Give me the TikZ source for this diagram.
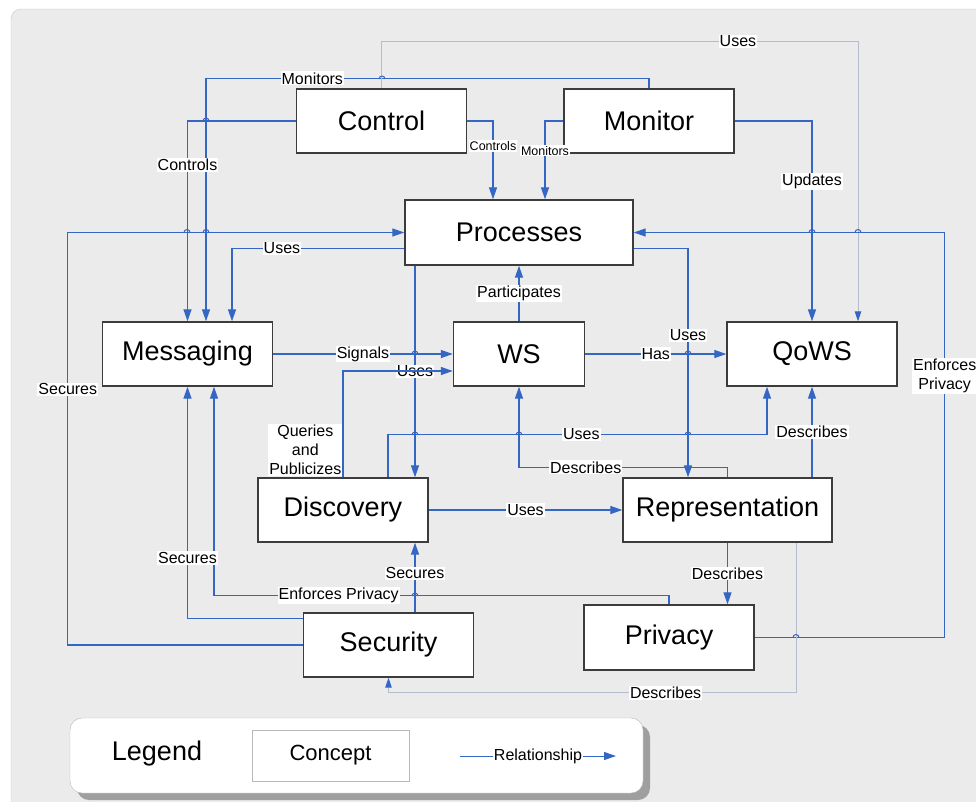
\documentclass[tikz,border=0pt]{standalone}
\usepackage{fontspec}
\setmainfont{Liberation Sans}
\usepackage{tikz}
\usetikzlibrary{arrows.meta,positioning,calc,shadows}

\definecolor{relBlue}{RGB}{52,102,196}
\definecolor{weakGray}{RGB}{180,188,205}
\definecolor{panelGray}{RGB}{235,235,235}
\definecolor{boxLine}{RGB}{60,60,60}

\tikzstyle{conceptBox} = [
  shape=rectangle,
  draw=boxLine,
  line width=1.4pt,
  fill=white,
  minimum width=170pt,
  minimum height=64pt,
  inner sep=0pt,
  font=\fontsize{27}{30}\selectfont,
  ]
\tikzstyle{relArrow} = [
  draw=relBlue,
  line width=1.3pt,
  -{Triangle[length=12pt,width=8pt]},
  ]
\tikzstyle{weakArrow} = [
  draw=weakGray,
  line width=1pt,
  -{Triangle[length=10pt,width=6.5pt,color=relBlue]},
  ]
\tikzstyle{relLabel} = [
  fill=white,
  inner sep=1pt,
  text=black,
  align=center,
  font=\fontsize{16}{19}\selectfont,
  ]
\tikzstyle{smallLabel} = [relLabel, font=\fontsize{12.5}{14}\selectfont]
\tikzstyle{legendBox} = [
  shape=rectangle,
  rounded corners=12pt,
  draw=gray!55,
  fill=white,
  minimum width=573pt,
  minimum height=75pt,
  drop shadow={shadow xshift=7pt,shadow yshift=-7pt,fill=gray!75,opacity=1},
  ]
\newcommand{\hop}[2]{\draw[relBlue,line width=1pt] (#1-3,#2) arc[start angle=180,end angle=360,radius=3];}

\begin{document}
\begin{tikzpicture}[x=1pt,y=-1pt]
  \clip (0,0) rectangle (976,801);
  \fill[panelGray,draw=gray!45,rounded corners=10pt] (11,9) rectangle (1010,840);

  \node[conceptBox] (control) at (381.5,121) {Control};
  \node[conceptBox] (monitor) at (649,121) {Monitor};
  \node[conceptBox,minimum width=228pt,minimum height=65pt] (processes) at (519,232.5) {Processes};
  \node[conceptBox] (messaging) at (187.5,354) {Messaging};
  \node[conceptBox,minimum width=131pt] (ws) at (519,354) {WS};
  \node[conceptBox] (qows) at (812,354) {QoWS};
  \node[conceptBox] (discovery) at (343,510) {Discovery};
  \node[conceptBox,minimum width=209pt] (representation) at (727.5,510) {Representation};
  \node[conceptBox] (security) at (388.5,645) {Security};
  \node[conceptBox,minimum height=65pt] (privacy) at (669,637.5) {Privacy};

  % control and monitor
  \draw[relArrow] (monitor.north) -- ++(0,-10) -| node[relLabel,pos=0.38] {Monitors} ([xshift=18.5pt]messaging.north);
  \draw[relArrow] (control.west) -| node[relLabel,pos=0.61] {Controls} (messaging.north);
  \draw[relArrow] (control.east) -| node[smallLabel,pos=0.66] {Controls} ([xshift=-26pt]processes.north);
  \draw[relArrow] (monitor.west) -| node[smallLabel,pos=0.69] {Monitors} ([xshift=26pt]processes.north);
  \draw[weakArrow] (control.north) -- ++(0,-47) -| node[relLabel,pos=0.374] {Uses} ([xshift=46pt]qows.north);
  \draw[relArrow] (monitor.east) -| node[relLabel,pos=0.65] {Updates} (qows.north);

  % processes
  \draw[relArrow] (security.west) -- ++(-235,0) |- node[relLabel,pos=0.31] {Secures} (processes.west);
  \draw[relArrow] ([yshift=-16pt]processes.west) -| node[relLabel,pos=0.355] {Uses} ([xshift=44.5pt]messaging.north);
  \draw[relArrow] ([xshift=-104pt]processes.south) -- node[relLabel] {Uses} ([xshift=-104pt]processes.south |- discovery.north);
  \draw[relArrow] ([yshift=-16pt]processes.east) -| node[relLabel,pos=0.69] {Uses} ([xshift=-39.5pt]representation.north);
  \draw[relArrow] (privacy.east) -- ++(190,0) |- node[relLabel,pos=0.323] {Enforces\\Privacy} (processes.east);

  % ws and qows
  \draw[relArrow] (messaging.east) -- node[relLabel] {Signals} (ws.west);
  \draw[relArrow] (ws.north) -- node[relLabel] {Participates} (processes.south);
  \draw[relArrow] (ws.east) -- node[relLabel] {Has} (qows.west);
  \draw[relArrow] (discovery.north) |- node[relLabel,left,pos=0.13] {Queries\\and\\Publicizes} ([yshift=-17pt]ws.west);
  \draw[relArrow] ([xshift=45pt]discovery.north) -- ++(0,-43) -| node[relLabel,pos=0.255] {Uses} ([xshift=-45pt]qows.south);
  \draw[relArrow] (representation.north) -- ++(0,-10) -| node[relLabel,pos=0.34] {Describes} (ws.south);
  \draw[relArrow] (qows.south |- representation.north) -- node[relLabel] {Describes} (qows.south);

  % lower part
  \draw[relArrow] (discovery.east) -- node[relLabel] {Uses} (representation.west);
  \draw[relArrow] (representation.south) -- node[relLabel] {Describes} (representation.south |- privacy.north);
  \draw[relArrow] (privacy.north) -- ++(0,-9) -| node[relLabel,pos=0.363] {Enforces Privacy} ([xshift=26.5pt]messaging.south);
  \draw[relArrow] ([yshift=-6pt]security.north west) -| node[relLabel,pos=0.63] {Secures} (messaging.south);
  \draw[relArrow] ([xshift=26.5pt]security.north) -- node[relLabel,pos=0.56] {Secures} ([xshift=26.5pt]security.north |- discovery.south);
  \draw[weakArrow] ([xshift=68.5pt]representation.south) -- ++(0,150) -| node[relLabel,pos=0.16] {Describes} (security.south);

  % line hops
  \foreach \hx/\hy in {382/79,206/121,187/232.5,206/232.5,812/232.5,858/232.5,415/354,688/354,
                       415/435,519/435,688/435,415/596,796/637.5}
    {\hop{\hx}{\hy}}

  % legend
  \node[legendBox] (legend) at (356.5,755.5) {};
  \node[font=\fontsize{27}{30}\selectfont] (legendTitle) at (157,754) {Legend};
  \node[conceptBox,draw=gray!55,line width=0.8pt,minimum width=157pt,minimum height=51pt,
        font=\fontsize{22}{26}\selectfont] (legendConcept) at (330.5,755.5) {Concept};
  \coordinate (relStart) at (460,756);
  \coordinate (relEnd) at (616,756);
  \draw[relArrow,line width=1pt] (relStart) -- node[relLabel] {Relationship} (relEnd);
\end{tikzpicture}
\end{document}
